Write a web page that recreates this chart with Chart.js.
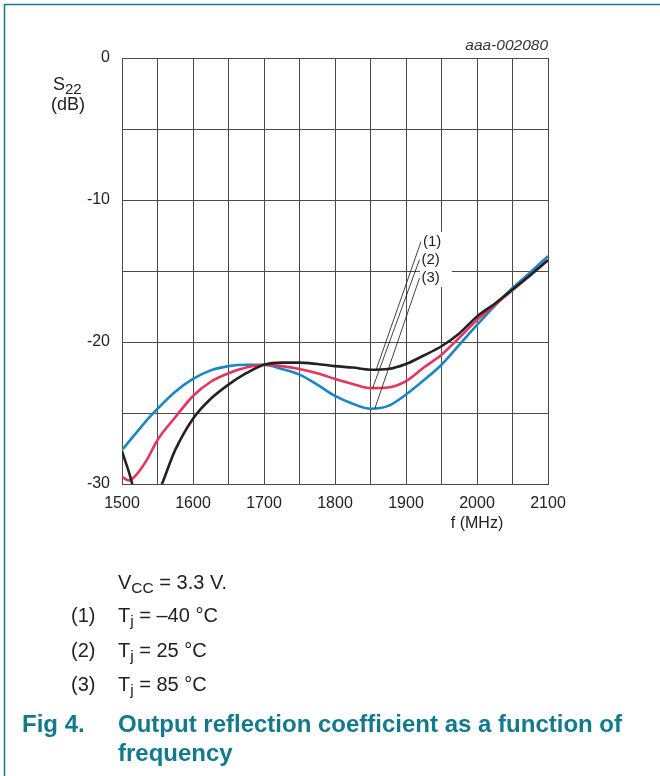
<!DOCTYPE html>
<html>
<head>
<meta charset="utf-8">
<script src="https://cdn.jsdelivr.net/npm/chart.js@4/dist/chart.umd.min.js"></script>
<style>
  html, body { margin: 0; padding: 0; background: #fff; }
  #c { display: block; }
</style>
</head>
<body>
<canvas id="c" width="660" height="776"></canvas>
<script>
// Frequency sweep (MHz) shared by all three curves
const freqMHz = [1500, 1510, 1520, 1535, 1550, 1575, 1600, 1625, 1650, 1675, 1700, 1725, 1750, 1775,
                 1800, 1825, 1850, 1875, 1900, 1925, 1950, 1975, 2000, 2025, 2050, 2075, 2100];

// S22 (dB) at Tj = -40 °C, 25 °C and 85 °C
const s22TjMinus40 = [-27.7, -29.2, -30.9, -31.6, -30.7, -27.6, -25.4, -24.0, -23.0, -22.2, -21.6, -21.45, -21.45, -21.55,
                      -21.7, -21.8, -21.95, -21.9, -21.55, -20.95, -20.3, -19.4, -18.2, -17.3, -16.3, -15.3, -14.25];
const s22Tj25 =      [-29.5, -29.75, -29.35, -28.3, -26.9, -25.3, -23.8, -22.8, -22.2, -21.8, -21.6, -21.7, -21.9, -22.2,
                      -22.6, -22.95, -23.25, -23.2, -22.75, -21.8, -20.9, -19.7, -18.45, -17.4, -16.35, -15.3, -14.2];
const s22Tj85 =      [-27.6, -27.0, -26.4, -25.5, -24.7, -23.5, -22.6, -22.0, -21.7, -21.6, -21.6, -21.9, -22.3, -23.0,
                      -23.8, -24.35, -24.7, -24.5, -23.7, -22.7, -21.6, -20.2, -18.8, -17.45, -16.2, -15.1, -13.95];

const seriesTags = ['(1)', '(2)', '(3)'];
const xTickLabels = [1500, 1600, 1700, 1800, 1900, 2000, 2100];
const yTickLabels = [0, -10, -20, -30];

// Callout: where each leader touches its curve, and where its tag sits (MHz, dB)
const calloutTip = [[1858, -21.95], [1853, -23.25], [1856, -24.7]];
const calloutTag = [[1921, -12.95], [1919, -14.2], [1919, -15.5]];

const FONT = '"Liberation Sans", Arial, Helvetica, sans-serif';
const TEAL = '#127a8c';

function pts(ys) { return freqMHz.map((f, i) => ({ x: f, y: ys[i] })); }

// Draw a run of text pieces (for subscripts) starting at x on a baseline
function runs(ctx, x, base, parts, color) {
  ctx.fillStyle = color || '#222';
  ctx.textAlign = 'left';
  ctx.textBaseline = 'alphabetic';
  for (const p of parts) {
    ctx.font = (p.w || 'normal') + ' ' + p.s + 'px ' + FONT;
    ctx.fillText(p.t, x, base + (p.dy || 0));
    x += ctx.measureText(p.t).width;
  }
}

const decorations = {
  id: 'decorations',
  beforeDatasetsDraw(chart) {
    // white patch behind the callout tags, covering the grid there
    const { ctx, scales: { x, y } } = chart;
    const l = x.getPixelForValue(calloutTag[0][0]) - 1;
    const t = y.getPixelForValue(calloutTag[0][1]) - 10;
    const b = y.getPixelForValue(calloutTag[2][1]) + 9;
    ctx.save();
    ctx.fillStyle = '#fff';
    ctx.fillRect(l, t, 32, b - t);
    ctx.restore();
  },
  afterDatasetsDraw(chart) {
    const { ctx, scales: { x, y } } = chart;
    ctx.save();
    // leader lines and tags
    ctx.strokeStyle = '#111';
    ctx.lineWidth = 0.8;
    for (let i = 0; i < 3; i++) {
      const x0 = x.getPixelForValue(calloutTip[i][0]), y0 = y.getPixelForValue(calloutTip[i][1]);
      const x1 = x.getPixelForValue(calloutTag[i][0]), y1 = y.getPixelForValue(calloutTag[i][1]);
      ctx.beginPath();
      ctx.moveTo(x0, y0);
      ctx.lineTo(x1, y1);
      ctx.stroke();
      ctx.font = '15px ' + FONT;
      ctx.fillStyle = '#222';
      ctx.textAlign = 'left';
      ctx.textBaseline = 'middle';
      ctx.fillText(seriesTags[i], x1 + 2, y1);
    }
    ctx.restore();
  },
  afterDraw(chart) {
    const { ctx, chartArea: a } = chart;
    ctx.save();
    // page frame
    ctx.strokeStyle = TEAL;
    ctx.lineWidth = 1.5;
    ctx.beginPath();
    ctx.moveTo(660, 4.5);
    ctx.lineTo(4.5, 4.5);
    ctx.lineTo(4.5, 776);
    ctx.stroke();

    // figure code
    ctx.font = 'italic 15.5px ' + FONT;
    ctx.fillStyle = '#333';
    ctx.textAlign = 'right';
    ctx.textBaseline = 'alphabetic';
    ctx.fillText('aaa-002080', a.right, 50);

    // y-axis title
    runs(ctx, 53, 90, [{ t: 'S', s: 18 }, { t: '22', s: 15, dy: 4 }]);
    ctx.font = '18px ' + FONT;
    ctx.textAlign = 'center';
    ctx.fillText('(dB)', 68, 110);

    // x-axis title
    ctx.font = '16px ' + FONT;
    ctx.textAlign = 'center';
    ctx.fillText('f (MHz)', 477, 528);

    // conditions
    runs(ctx, 118, 589, [{ t: 'V', s: 20 }, { t: 'CC', s: 15.5, dy: 4 }, { t: ' = 3.3 V.', s: 20 }]);
    const temps = ['\u201340 \u00B0C', '25 \u00B0C', '85 \u00B0C'];
    const bases = [622, 657, 691];
    for (let i = 0; i < 3; i++) {
      runs(ctx, 71, bases[i], [{ t: seriesTags[i], s: 20 }]);
      runs(ctx, 118, bases[i], [{ t: 'T', s: 20 }, { t: 'j', s: 15.5, dy: 4 }, { t: ' = ' + temps[i], s: 20 }]);
    }

    // caption
    runs(ctx, 22, 732, [{ t: 'Fig 4.', s: 24, w: 'bold' }], TEAL);
    runs(ctx, 118, 732, [{ t: 'Output reflection coefficient as a function of', s: 24, w: 'bold' }], TEAL);
    runs(ctx, 118, 761, [{ t: 'frequency', s: 24, w: 'bold' }], TEAL);
    ctx.restore();
  }
};

const lineStyle = { borderWidth: 2.6, pointRadius: 0, fill: false, cubicInterpolationMode: 'monotone' };

new Chart(document.getElementById('c'), {
  type: 'line',
  data: {
    datasets: [
      Object.assign({ label: 'Tj = -40 °C', data: pts(s22TjMinus40), borderColor: '#222222' }, lineStyle),
      Object.assign({ label: 'Tj = 25 °C', data: pts(s22Tj25), borderColor: '#e8335c' }, lineStyle),
      Object.assign({ label: 'Tj = 85 °C', data: pts(s22Tj85), borderColor: '#1b86c6' }, lineStyle)
    ]
  },
  options: {
    responsive: false,
    animation: false,
    devicePixelRatio: 1,
    layout: { padding: { left: 0, top: 58, right: 112, bottom: 252 } },
    plugins: { legend: { display: false }, tooltip: { enabled: false } },
    scales: {
      x: {
        type: 'linear', min: 1500, max: 2100,
        afterFit(s) { s.height = 40; },
        grid: { color: '#4a4a4a', lineWidth: 1, drawTicks: false },
        border: { color: '#4a4a4a', width: 1 },
        ticks: {
          stepSize: 50, padding: 10, maxRotation: 0, autoSkip: false,
          color: '#222', font: { family: FONT, size: 16 },
          callback: v => xTickLabels.includes(v) ? String(v) : ''
        }
      },
      y: {
        min: -30, max: 0,
        afterFit(s) { s.width = 122; },
        grid: { color: '#4a4a4a', lineWidth: 1, drawTicks: false },
        border: { color: '#4a4a4a', width: 1 },
        ticks: {
          stepSize: 5, padding: 12, autoSkip: false,
          color: '#222', font: { family: FONT, size: 16 },
          callback: v => yTickLabels.includes(v) ? String(v) : ''
        }
      }
    }
  },
  plugins: [decorations]
});
</script>
</body>
</html>
